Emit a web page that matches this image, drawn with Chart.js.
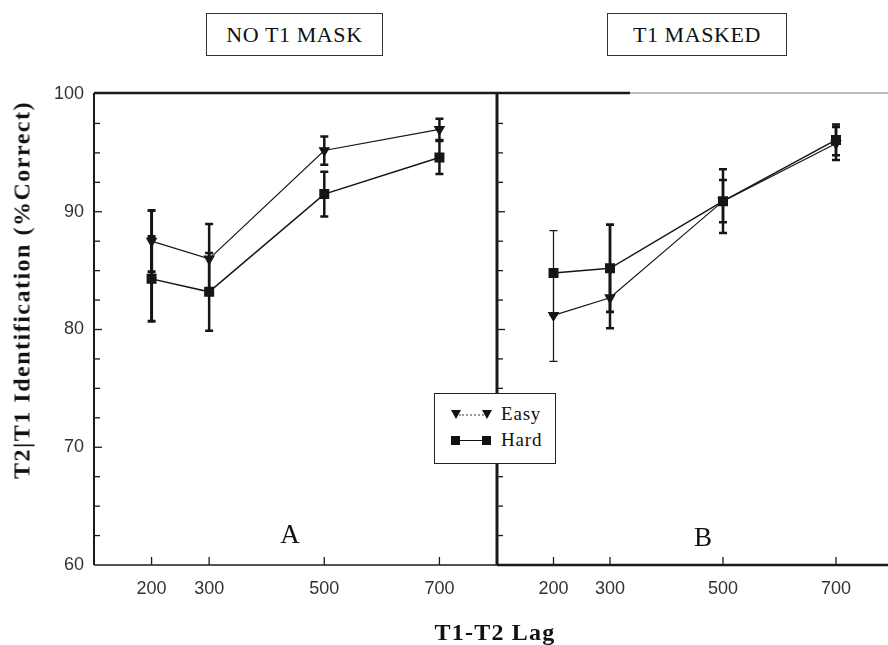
<!DOCTYPE html>
<html>
<head>
<meta charset="utf-8">
<script src="https://cdn.jsdelivr.net/npm/chart.js@4.4.1/dist/chart.umd.min.js"></script>
<style>
    html, body { margin: 0; padding: 0; background: #fff; }
    body { width: 888px; height: 645px; position: relative; overflow: hidden; font-family: "Liberation Serif", serif; color: #111; }
    .panel { position: absolute; top: 0; height: 645px; }
    .title-box { position: absolute; top: 13px; height: 43px; border: 1px solid #333; box-sizing: border-box;
                 font-size: 22px; letter-spacing: 0.6px; line-height: 41px; text-align: center; background: #fff; }
    .letter { position: absolute; font-size: 27px; transform: translate(-50%, -50%); z-index: 3; }
    .legend { position: absolute; left: 434px; top: 393px; width: 122px; height: 71px; border: 1px solid #222;
              box-sizing: border-box; background: #fff; z-index: 3; }
    .leg-row { position: absolute; left: 0; height: 14px; width: 100%; }
    .tri { position: absolute; top: 2px; width: 0; height: 0; border-left: 5px solid transparent;
           border-right: 5px solid transparent; border-top: 9px solid #111; }
    .sq { position: absolute; top: 2px; width: 9px; height: 9px; background: #111; }
    .leg-line { position: absolute; left: 24px; width: 28px; top: 6px; }
    .leg-text { position: absolute; left: 66px; top: -5px; font-size: 19px; letter-spacing: 0.8px; }
    .ytitle { position: absolute; left: 22px; top: 290px; transform: translate(-50%, -50%) rotate(-90deg);
              font-weight: bold; font-size: 24px; letter-spacing: 1.5px; white-space: nowrap; z-index: 3; }
    .xtitle { position: absolute; left: 495px; top: 632px; transform: translate(-50%, -50%);
              font-weight: bold; font-size: 24px; letter-spacing: 1.2px; white-space: nowrap; z-index: 3; }
</style>
</head>
<body>
    <div class="panel" style="left:0; width:507px;"><canvas id="chartA"></canvas></div>
    <div class="panel" style="left:487px; width:413px;"><canvas id="chartB"></canvas></div>

    <div class="title-box" style="left:206px; width:177px;">NO T1 MASK</div>
    <div class="title-box" style="left:607px; width:180px;">T1 MASKED</div>

    <div class="letter" style="left:290px; top:534px;">A</div>
    <div class="letter" style="left:703px; top:537px;">B</div>

    <div class="legend">
        <div class="leg-row" style="top:14px;">
            <div class="tri" style="left:16px;"></div>
            <div class="leg-line" style="border-top:2px dotted #999;"></div>
            <div class="tri" style="left:47px;"></div>
            <div class="leg-text">Easy</div>
        </div>
        <div class="leg-row" style="top:40px;">
            <div class="sq" style="left:16px;"></div>
            <div class="leg-line" style="border-top:1.5px solid #111;"></div>
            <div class="sq" style="left:47px;"></div>
            <div class="leg-text">Hard</div>
        </div>
    </div>

    <div class="ytitle">T2|T1 Identification (%Correct)</div>
    <div class="xtitle">T1-T2 Lag</div>

<script>
// 데이터
const lags = [200, 300, 500, 700];
const yTicks = [60, 70, 80, 90, 100];

// A: NO T1 MASK
const easyA = [87.5, 86.0, 95.2, 97.0];
const easyAErr = [2.6, 2.95, 1.2, 0.9];
const hardA = [84.3, 83.2, 91.5, 94.6];
const hardAErr = [3.6, 3.3, 1.9, 1.4];

// B: T1 MASKED
const easyB = [81.2, 82.7, 90.9, 95.8];
const easyBErr = [3.9, 2.6, 1.8, 1.4];
const hardB = [84.8, 85.2, 90.9, 96.1];
const hardBErr = [3.6, 3.7, 2.7, 1.3];

const tickFont = { family: '"Liberation Sans Narrow", "Liberation Sans", sans-serif', size: 18 };

// 에러바 그리기
const errorBarPlugin = {
    id: 'errorBars',
    beforeDatasetsDraw(chart) {
        const ctx = chart.ctx;
        const xs = chart.scales.x, ys = chart.scales.y;
        ctx.save();
        ctx.strokeStyle = '#151515';
        chart.data.datasets.forEach(ds => {
            ds.data.forEach((p, i) => {
                const e = ds.errors[i];
                const x = xs.getPixelForValue(p.x);
                const top = ys.getPixelForValue(p.y + e);
                const bot = ys.getPixelForValue(p.y - e);
                ctx.lineWidth = ds.errWidth[i];
                ctx.beginPath();
                ctx.moveTo(x, top); ctx.lineTo(x, bot);
                ctx.moveTo(x - 4, top); ctx.lineTo(x + 4, top);
                ctx.moveTo(x - 4, bot); ctx.lineTo(x + 4, bot);
                ctx.stroke();
            });
        });
        ctx.restore();
    }
};

// 테두리와 안쪽 눈금
const framePlugin = {
    id: 'frame',
    afterDraw(chart, args, opts) {
        const ctx = chart.ctx;
        const { left, right, top, bottom } = chart.chartArea;
        const xs = chart.scales.x, ys = chart.scales.y;
        ctx.save();
        ctx.strokeStyle = '#1a1a1a';
        // y 눈금
        ctx.lineWidth = 1.3;
        for (let v = 62.5; v < 100; v += 2.5) {
            const y = ys.getPixelForValue(v);
            const len = v % 10 === 0 ? 8 : 6;
            ctx.beginPath();
            ctx.moveTo(left, y); ctx.lineTo(left + len, y);
            ctx.stroke();
        }
        // x 눈금
        lags.forEach(v => {
            const x = xs.getPixelForValue(v);
            ctx.beginPath();
            ctx.moveTo(x, bottom); ctx.lineTo(x, bottom - 8);
            ctx.stroke();
        });
        // 테두리
        ctx.lineWidth = opts.side === 'left' ? 2 : 3;
        ctx.beginPath();
        ctx.moveTo(left, top - 1); ctx.lineTo(left, bottom);
        ctx.stroke();
        ctx.lineWidth = opts.side === 'left' ? 1.6 : 2.6;
        ctx.beginPath();
        ctx.moveTo(left, bottom); ctx.lineTo(right, bottom);
        ctx.stroke();
        ctx.lineWidth = 2.4;
        ctx.beginPath();
        const thickEnd = opts.side === 'left' ? right : left + 133;
        ctx.moveTo(left, top - 1); ctx.lineTo(thickEnd, top - 1);
        ctx.stroke();
        if (opts.side === 'right') {
            ctx.lineWidth = 1;
            ctx.strokeStyle = '#777';
            ctx.beginPath();
            ctx.moveTo(thickEnd, top - 1); ctx.lineTo(right, top - 1);
            ctx.stroke();
        }
        ctx.restore();
    }
};

const makeSeries = (values, errs, widths, style) => ({
    data: lags.map((x, i) => ({ x, y: values[i] })),
    errors: errs,
    errWidth: widths,
    borderColor: '#161616',
    backgroundColor: '#161616',
    borderWidth: style === 'easy' ? 1.2 : 1.5,
    pointStyle: style === 'easy' ? 'triangle' : 'rect',
    rotation: style === 'easy' ? 180 : 0,
    pointRadius: style === 'easy' ? 5.5 : 6,
    pointHoverRadius: 6,
    tension: 0
});

const buildChart = (canvasId, easy, easyErr, hard, hardErr, easyW, hardW, side) => {
    const ctx = document.getElementById(canvasId).getContext('2d');
    new Chart(ctx, {
        type: 'line',
        data: {
            datasets: [
                makeSeries(hard, hardErr, hardW, 'hard'),
                makeSeries(easy, easyErr, easyW, 'easy')
            ]
        },
        options: {
            responsive: true,
            maintainAspectRatio: false,
            animation: false,
            events: [],
            layout: { padding: { top: 94, right: side === 'left' ? 10 : 0, left: 0, bottom: 0 } },
            plugins: {
                legend: { display: false },
                tooltip: { enabled: false },
                frame: { side }
            },
            scales: {
                x: {
                    type: 'linear',
                    min: 100,
                    max: 800,
                    afterBuildTicks: s => { s.ticks = lags.map(v => ({ value: v })); },
                    afterFit: s => { s.height = 80; },
                    grid: { display: false, drawTicks: false },
                    border: { display: false },
                    ticks: { font: tickFont, color: '#333', padding: 13, maxRotation: 0, autoSkip: false }
                },
                y: {
                    min: 60,
                    max: 100,
                    afterBuildTicks: s => { s.ticks = yTicks.map(v => ({ value: v })); },
                    afterFit: s => { s.width = side === 'left' ? 94 : 10; },
                    grid: { display: false, drawTicks: false },
                    border: { display: false },
                    ticks: { display: side === 'left', font: tickFont, color: '#333', padding: 10 }
                }
            }
        },
        plugins: [errorBarPlugin, framePlugin]
    });
};

buildChart('chartA', easyA, easyAErr, hardA, hardAErr, [3, 2.5, 2.5, 2.5], [3, 2.5, 2.5, 2.5], 'left');
buildChart('chartB', easyB, easyBErr, hardB, hardBErr, [1.2, 2.5, 2.5, 2.5], [1.2, 2.8, 2.5, 2.5], 'right');
</script>
</body>
</html>
